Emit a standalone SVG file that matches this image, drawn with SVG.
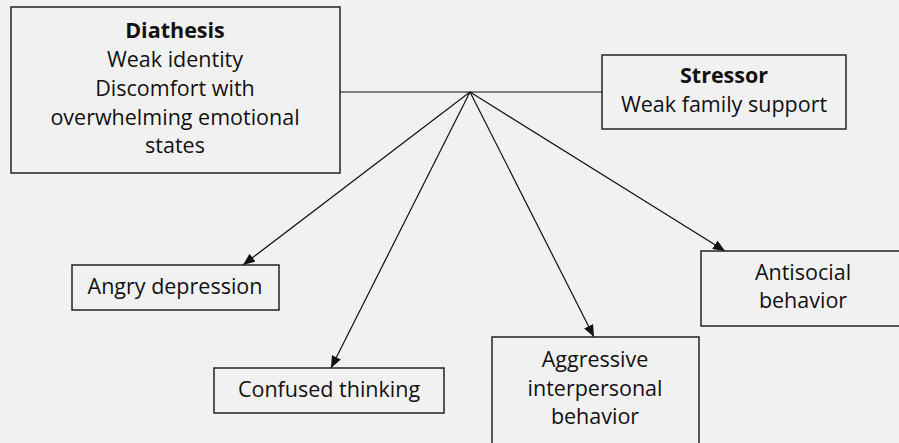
<svg xmlns="http://www.w3.org/2000/svg" width="899" height="443" viewBox="0 0 899 443">
  <style>
    .box { fill: #f1f1f1; stroke: #222; stroke-width: 1.5; }
    .t { font-family: "Open Sans", "Noto Sans", "Liberation Sans", sans-serif; font-size: 21.5px; fill: #111; text-anchor: middle; }
    .b { font-weight: bold; }
    .edge { stroke: #111; stroke-width: 1.2; fill: none; }
  </style>
  <defs>
    <marker id="arrow" viewBox="0 0 12 10" refX="12" refY="5" markerWidth="12" markerHeight="10" markerUnits="userSpaceOnUse" orient="auto">
      <path d="M0,0 L12,5 L0,10 Z" fill="#111"/>
    </marker>
  </defs>
  <rect width="899" height="443" fill="#f1f1f1"/>

  <g id="connectors">
    <line class="edge" x1="340" y1="92" x2="602" y2="92"/>
    <line class="edge" x1="470" y1="92" x2="243" y2="265" marker-end="url(#arrow)"/>
    <line class="edge" x1="470" y1="92" x2="331" y2="368" marker-end="url(#arrow)"/>
    <line class="edge" x1="470" y1="92" x2="594" y2="337" marker-end="url(#arrow)"/>
    <line class="edge" x1="470" y1="92" x2="725" y2="251" marker-end="url(#arrow)"/>
  </g>

  <g id="diathesis">
    <rect class="box" x="11" y="7" width="329" height="166"/>
    <text class="t b" x="175" y="38">Diathesis</text>
    <text class="t" x="175" y="67">Weak identity</text>
    <text class="t" x="175" y="96">Discomfort with</text>
    <text class="t" x="175" y="125">overwhelming emotional</text>
    <text class="t" x="175" y="153">states</text>
  </g>

  <g id="stressor">
    <rect class="box" x="602" y="55" width="244" height="74"/>
    <text class="t b" x="724" y="83">Stressor</text>
    <text class="t" x="724" y="112">Weak family support</text>
  </g>

  <g id="angry-depression">
    <rect class="box" x="72" y="265" width="207" height="45"/>
    <text class="t" x="175" y="294">Angry depression</text>
  </g>

  <g id="confused-thinking">
    <rect class="box" x="214" y="368" width="230" height="45"/>
    <text class="t" x="329" y="397">Confused thinking</text>
  </g>

  <g id="aggressive">
    <rect class="box" x="492" y="337" width="207" height="120"/>
    <text class="t" x="595" y="367">Aggressive</text>
    <text class="t" x="595" y="396">interpersonal</text>
    <text class="t" x="595" y="424">behavior</text>
  </g>

  <g id="antisocial">
    <rect class="box" x="701" y="251" width="210" height="75"/>
    <text class="t" x="803" y="280">Antisocial</text>
    <text class="t" x="803" y="308">behavior</text>
  </g>
</svg>
